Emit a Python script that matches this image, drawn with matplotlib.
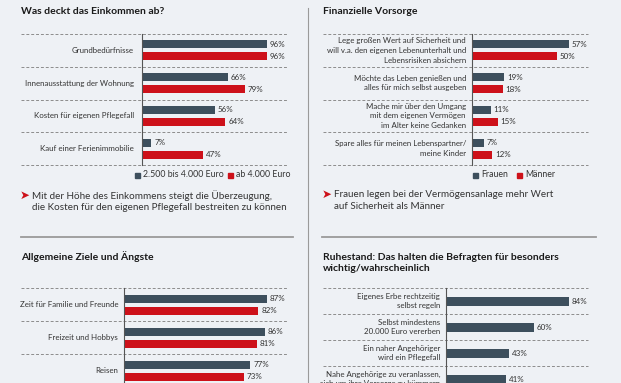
import matplotlib
matplotlib.use("Agg")
import matplotlib.pyplot as plt
import matplotlib.transforms as mtransforms
from matplotlib.patches import Rectangle
from matplotlib.lines import Line2D

plt.rcParams['font.family'] = ['Lato', 'DejaVu Sans']

# data
inc_cats = ["Grundbedürfnisse", "Innenausstattung der Wohnung",
            "Kosten für eigenen Pflegefall", "Kauf einer Ferienimmobilie"]
inc_mid = [96, 66, 56, 7]
inc_high = [96, 79, 64, 47]
inc_legend = ["2.500 bis 4.000 Euro", "ab 4.000 Euro"]

fin_cats = ["Lege großen Wert auf Sicherheit und\nwill v.a. den eigenen Lebenunterhalt und\nLebensrisiken absichern",
            "Möchte das Leben genießen und\nalles für mich selbst ausgeben",
            "Mache mir über den Umgang\nmit dem eigenen Vermögen\nim Alter keine Gedanken",
            "Spare alles für meinen Lebenspartner/\nmeine Kinder"]
fin_women = [57, 19, 11, 7]
fin_men = [50, 18, 15, 12]
fin_legend = ["Frauen", "Männer"]

goal_cats = ["Zeit für Familie und Freunde", "Freizeit und Hobbys", "Reisen"]
goal_a = [87, 86, 77]
goal_b = [82, 81, 73]

ret_cats = ["Eigenes Erbe rechtzeitig\nselbst regeln",
            "Selbst mindestens\n20.000 Euro vererben",
            "Ein naher Angehöriger\nwird ein Pflegefall",
            "Nahe Angehörige zu veranlassen,\nsich um ihre Vorsorge zu kümmern"]
ret_vals = [84, 60, 43, 41]

BG = "#eef1f5"
DARK = "#3d4f5d"
RED = "#cd111a"
TXT = "#333333"
W, H = 621, 383

fig = plt.figure(figsize=(W / 100, H / 100), dpi=100, facecolor=BG)


def fx(px):
    return px / W


def fy(py):
    return 1 - py / H


def make_axes(left, right, top, n, group_px, scale):
    bottom = top + n * group_px
    ax = fig.add_axes([fx(left), fy(bottom), (right - left) / W, (bottom - top) / H])
    ax.set_facecolor("none")
    ax.set_xlim(0, (right - left) / scale)
    ax.set_ylim(n - 0.5, -0.5)
    for s in ["top", "right", "bottom"]:
        ax.spines[s].set_visible(False)
    ax.spines["left"].set_color("#555555")
    ax.spines["left"].set_linewidth(0.8)
    ax.set_xticks([])
    ax.set_yticks([])
    return ax


def separators(ax, n, x0, x1):
    tr = mtransforms.blended_transform_factory(fig.transFigure, ax.transData)
    for i in range(n + 1):
        y = i - 0.5
        ax.add_line(Line2D([fx(x0), fx(x1)], [y, y], transform=tr, color="#8c8c8c",
                           lw=0.7, ls=(0, (3, 2)), clip_on=False))


def labels(ax, cats, gap, fs=5.7, ls=1.45):
    for i, c in enumerate(cats):
        ax.annotate(c, xy=(0, i), xytext=(-gap, 0), textcoords="offset pixels",
                    ha="right", va="center", fontsize=fs, color=TXT,
                    linespacing=ls, annotation_clip=False)


def values(ax, vals, ys):
    for v, y in zip(vals, ys):
        ax.annotate(f"{v}%", xy=(v, y), xytext=(3, 0), textcoords="offset pixels",
                    ha="left", va="center", fontsize=5.8, color=TXT,
                    annotation_clip=False)


def pair_chart(left, right, top, group_px, scale, cats, a, b, gap, x0, x1):
    n = len(cats)
    ax = make_axes(left, right, top, n, group_px, scale)
    off = 6 / group_px
    hgt = 8 / group_px
    ya = [i - off for i in range(n)]
    yb = [i + off for i in range(n)]
    ax.barh(ya, a, height=hgt, color=DARK)
    ax.barh(yb, b, height=hgt, color=RED)
    values(ax, a, ya)
    values(ax, b, yb)
    labels(ax, cats, gap)
    separators(ax, n, x0, x1)
    return ax


def legend(items, y):
    for x, col, lab in items:
        fig.add_artist(Rectangle((fx(x), fy(y + 2.5)), 5 / W, 5 / H,
                                 transform=fig.transFigure, color=col))
        fig.text(fx(x + 8), fy(y), lab, fontsize=6.3, color=TXT, va="center")


def title(x, y, s):
    fig.text(fx(x), fy(y), s, fontsize=7.5, fontweight="bold", color="#1a1a1a",
             va="center", linespacing=1.15)


def note(x, y, s):
    fig.text(fx(x - 1), fy(y), "➤", fontsize=8.5, color=RED, va="center",
             family=["DejaVu Sans"])
    fig.text(fx(x + 11), fy(y + 6.5), s, fontsize=7.1, color=TXT, va="center",
             linespacing=1.3)


# top left: income
title(21, 12, "Was deckt das Einkommen ab?")
pair_chart(142, 288, 34, 32.75, 1.30, inc_cats, inc_mid, inc_high, 8, 21, 287)
legend([(135, DARK, inc_legend[0]), (228, RED, inc_legend[1])], 175)
note(21, 195, "Mit der Höhe des Einkommens steigt die Überzeugung,\n"
              "die Kosten für den eigenen Pflegefall bestreiten zu können")

# top right: financial provision
title(323, 12, "Finanzielle Vorsorge")
pair_chart(472, 590, 34, 32.75, 1.70, fin_cats, fin_women, fin_men, 6, 323, 588)
legend([(473, DARK, fin_legend[0]), (517, RED, fin_legend[1])], 175)
note(323, 194, "Frauen legen bei der Vermögensanlage mehr Wert\nauf Sicherheit als Männer")

# bottom left: goals
title(21, 257, "Allgemeine Ziele und Ängste")
pair_chart(124, 288, 288, 33, 1.64, goal_cats, goal_a, goal_b, 6, 21, 287)

# bottom right: retirement
title(323, 263, "Ruhestand: Das halten die Befragten für besonders\nwichtig/wahrscheinlich")
n = len(ret_cats)
ax = make_axes(446, 590, 288, n, 26, 1.465)
ax.barh(range(n), ret_vals, height=9 / 26, color=DARK)
values(ax, ret_vals, range(n))
labels(ax, ret_cats, 6)
separators(ax, n, 323, 588)

# panel dividers
fig.add_artist(Line2D([fx(308), fx(308)], [fy(8), fy(383)], color="#9a9a9a", lw=0.8))
fig.add_artist(Line2D([fx(21), fx(293)], [fy(237), fy(237)], color="#9a9a9a", lw=1.3))
fig.add_artist(Line2D([fx(322), fx(596)], [fy(237), fy(237)], color="#9a9a9a", lw=1.3))

fig.savefig("out.png", dpi=100, facecolor=BG)
